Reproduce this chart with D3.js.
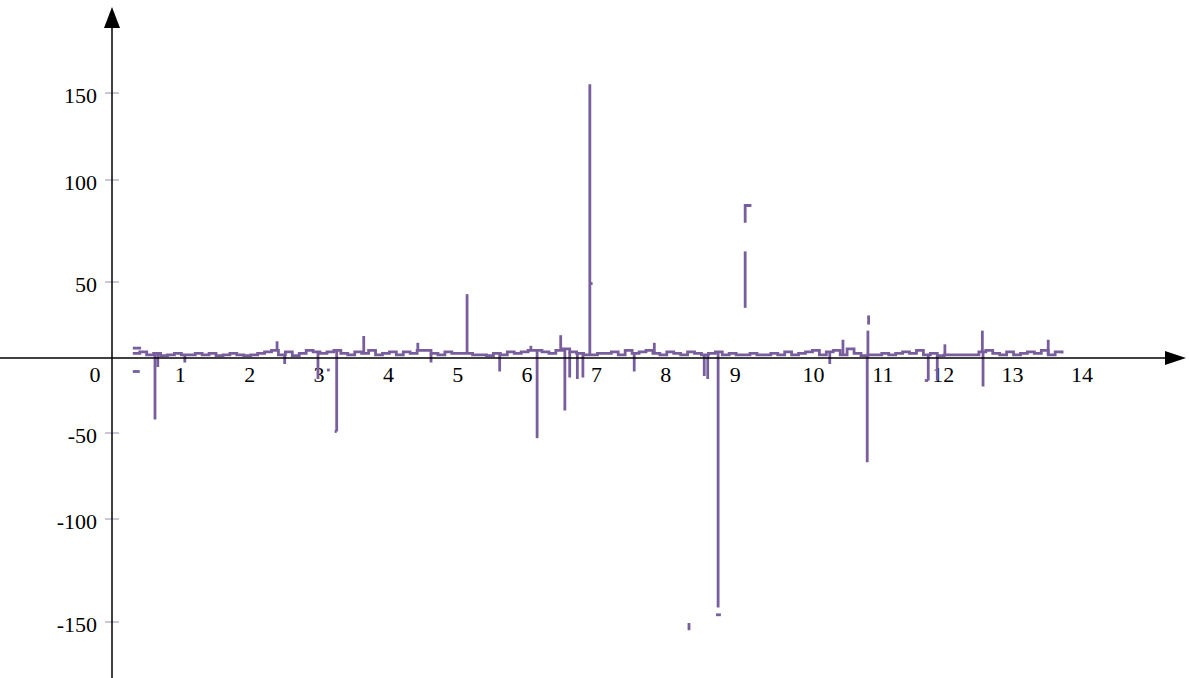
<!DOCTYPE html>
<html>
<head>
<meta charset="utf-8">
<script src="https://d3js.org/d3.v7.min.js"></script>
</head>
<body style="margin:0;background:#fff">
<div id="chart"></div>
<script>
// Taille
const width = 1189;
const height = 678;
const fontFamily = "'Liberation Serif', 'Times New Roman', 'DejaVu Serif', serif";

// Données
const xTicks = [1, 2, 3, 4, 5, 6, 7, 8, 9, 10, 11, 12, 13, 14];
const yTicks = [-150, -100, -50, 50, 100, 150];

// ligne de base : un point tous les 0.1 à partir de 0.3
const baseStart = 0.3;
const baseStep = 0.1;
const baseValues = [
  3, 4, 2, 3, 1.5, 2, 3, 2,
  2, 3, 2, 3, 1.5, 2, 3, 2, 1.5, 2,
  3, 4, 5, 2, 4, 1.5, 3, 5, 4, 3,
  4, 5, 3, 2, 4, 3, 5, 2, 3, 4,
  2, 4, 3, 5, 5, 3, 2, 4, 3, 3,
  3, 2, 2, 1.5, 3, 2, 4, 3, 4, 5,
  5, 4, 3, 5, 6, 4, 3, 2, 2, 3,
  3, 4, 2, 5, 3, 4, 5, 3, 2, 4,
  3, 2, 4, 3, 2, 3, 4, 2, 3, 2,
  2, 3, 2, 2, 3, 2, 4, 2, 3, 4,
  5, 2, 4, 5, 2, 6, 3, 1.5, 2, 2,
  3, 2, 3, 4, 3, 5, 2, 3, 1.5, 2,
  2, 2, 2, 2, 4, 5, 3, 2, 4, 2,
  3, 4, 3, 5, 2, 4, 3
];

// pics verticaux [x, valeur]
const spikes = [
  [0.62, -41], [0.66, -6], [1.05, -3], [2.38, 11], [2.49, -4], [2.97, -14],
  [3.24, -49], [3.63, 14.5], [4.41, 10], [4.6, -3], [5.12, 42], [5.59, -9],
  [6.04, 8], [6.13, -53], [6.47, 15], [6.53, -35], [6.6, -13], [6.71, -14],
  [6.79, -13], [6.89, 155], [7.53, -9], [7.82, 10], [8.54, -12], [8.59, -14],
  [8.74, -143], [10.35, -4], [10.54, 12], [10.89, -67], [10.9, 18],
  [11.77, -15], [11.9, -15], [12.01, 9], [12.55, 18], [12.56, -19], [13.5, 12]
];

// morceaux isolés
const pieces = [
  [[0.3, 6.5], [0.42, 6.5]],
  [[0.3, -9], [0.4, -9]],
  [[3.1, -8], [3.14, -8]],
  [[3.21, -49], [3.24, -49]],
  [[6.89, 49], [6.93, 49]],
  [[8.32, -150.5], [8.32, -154]],
  [[8.71, -146.5], [8.78, -146.5]],
  [[9.13, 33], [9.13, 65]],
  [[9.13, 79], [9.13, 87.5], [9.22, 87.5]],
  [[10.91, 22], [10.91, 28]],
  [[11.72, -15], [11.77, -15]]
];

// Création du SVG
const svg = d3.select("#chart")
  .append("svg")
  .attr("width", width)
  .attr("height", height)
  .style("display", "block");

// Échelles
const x = d3.scaleLinear().domain([0, 14]).range([112, 112 + 14 * 69.35]);
const y = d3.scaleLinear()
  .domain([-150, -100, -50, 0, 50, 100, 150])
  .range([622, 519, 433, 358, 282, 180, 93]);

const color = "#785e9c";

const line = d3.line()
  .x((d) => x(d[0]))
  .y((d) => y(d[1]));

const basePoints = baseValues.map((v, i) => [baseStart + i * baseStep, v]);

function baseAt(xv) {
  const i = Math.max(0, Math.min(baseValues.length - 1, Math.floor((xv - baseStart) / baseStep + 1e-6)));
  return baseValues[i];
}

// Graduations Y
svg.append("g")
  .selectAll("line")
  .data(yTicks)
  .join("line")
  .attr("x1", 105)
  .attr("x2", 119)
  .attr("y1", (d) => y(d))
  .attr("y2", (d) => y(d))
  .attr("stroke", "#9a8abb")
  .attr("stroke-width", 1);

const labels = svg.append("g")
  .attr("font-family", fontFamily)
  .attr("font-size", 22)
  .attr("fill", "#000");

labels.selectAll(".ylab")
  .data(yTicks)
  .join("text")
  .attr("class", "ylab")
  .attr("x", 97)
  .attr("y", (d) => y(d) + 10)
  .attr("text-anchor", "end")
  .text((d) => d);

// Étiquettes X
labels.selectAll(".xlab")
  .data(xTicks)
  .join("text")
  .attr("class", "xlab")
  .attr("x", (d) => x(d) + (d >= 10 && d <= 11 ? 8 : -1))
  .attr("y", 382)
  .attr("text-anchor", "middle")
  .text((d) => d);

labels.append("text").attr("x", 95).attr("y", 382).attr("text-anchor", "middle").text("0");

// Courbe
const g = svg.append("g")
  .attr("fill", "none")
  .attr("stroke", color)
  .attr("stroke-width", 2.8);

g.append("path")
  .attr("d", line.curve(d3.curveStepAfter)(basePoints));

line.curve(d3.curveLinear);

g.selectAll(".spike")
  .data(spikes)
  .join("path")
  .attr("class", "spike")
  .attr("d", (d) => line([[d[0], baseAt(d[0])], [d[0], d[1]]]));

g.selectAll(".piece")
  .data(pieces)
  .join("path")
  .attr("class", "piece")
  .attr("d", (d) => line(d));

// Axes avec flèches
const axes = svg.append("g").attr("stroke", "#000").attr("stroke-width", 1.5);
axes.append("line").attr("x1", 0).attr("x2", 1168).attr("y1", y(0)).attr("y2", y(0));
axes.append("line").attr("x1", x(0)).attr("x2", x(0)).attr("y1", height).attr("y2", 26);

svg.append("path")
  .attr("d", `M${1186},${y(0)} L${1165},${y(0) - 7} L${1165},${y(0) + 7} Z`)
  .attr("fill", "#000");
svg.append("path")
  .attr("d", `M${x(0)},7 L${x(0) - 8},28 L${x(0) + 8},28 Z`)
  .attr("fill", "#000");
</script>
</body>
</html>
